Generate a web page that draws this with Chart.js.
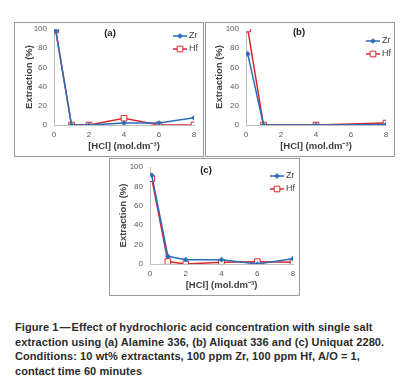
<!DOCTYPE html>
<html lang="en">
<head>
    <meta charset="UTF-8">
    <title>Figure 1</title>
    <script src="https://cdn.jsdelivr.net/npm/chart.js"></script>
    <style>
        body {
        margin: 0;
        background: #fff;
        font-family: "Liberation Sans", Arial, sans-serif;
        }
        .panel {
        position: absolute;
        border: 1px solid #9a9a9a;
        background: #fff;
        }
        .panel canvas {
        display: block;
        }
        #caption {
        position: absolute;
        left: 15px;
        top: 320px;
        font-size: 11px;
        font-weight: bold;
        line-height: 14.5px;
        color: #2b2b2b;
        white-space: nowrap;
        letter-spacing: 0.08px;
        }
    </style>
</head>
<body>
    <div class="panel" style="left:14px; top:22px; width:188px; height:133px;">
        <canvas id="chartA" width="188" height="133"></canvas>
    </div>
    <div class="panel" style="left:205px; top:22px; width:188px; height:133px;">
        <canvas id="chartB" width="188" height="133"></canvas>
    </div>
    <div class="panel" style="left:109px; top:158px; width:189px; height:136px;">
        <canvas id="chartC" width="189" height="136"></canvas>
    </div>

    <div id="caption">
        Figure 1&#8202;—&#8202;Effect of hydrochloric acid concentration with single salt<br>
        extraction using (a) Alamine 336, (b) Aliquat 336 and (c) Uniquat 2280.<br>
        Conditions: 10 wt% extractants, 100 ppm Zr, 100 ppm Hf, A/O = 1,<br>
        contact time 60 minutes
    </div>

    <script>
        // [HCl] concentrations (mol.dm-3) and extraction (%)
        const hclA = [0.1, 1, 2, 4, 6, 8];
        const zrA = [98, 0, 0, 2, 2, 7.5];
        const hfA = [99, 0, 0, 7, 0, 0];

        const hclB = [0.1, 1, 4, 8];
        const zrB = [74, 0, 0, 0.5];
        const hfB = [100, 0, 0, 2];

        const hclC = [0.1, 1, 2, 4, 6, 8];
        const zrC = [91.5, 8, 4.5, 4.5, 0, 5.5];
        const hfC = [88, 2.5, 0, 1.7, 2.4, 1.7];

        const xTicks = [0, 2, 4, 6, 8];
        const yTicks = [0, 20, 40, 60, 80, 100];
        const seriesNames = ['Zr', 'Hf'];

        const ZR_COLOR = '#2a6ebb';
        const HF_COLOR = '#d9262c';
        const TEXT = '#404040';

        // title "(a)" and the little legend, drawn inside the plot
        const panelDeco = {
        id: 'panelDeco',
        afterDraw(chart) {
            const o = chart.options.plugins.panelDeco;
            const ctx = chart.ctx;
            ctx.save();
            ctx.fillStyle = '#1a1a1a';
            ctx.font = 'bold 9.5px "Liberation Sans", Arial, sans-serif';
            ctx.textAlign = 'center';
            ctx.textBaseline = 'middle';
            ctx.fillText(o.label, o.labelX, o.labelY);

            chart.data.datasets.forEach((ds, i) => {
            const y = o.legY + i * 13;
            ctx.strokeStyle = ds.borderColor;
            ctx.lineWidth = 1.5;
            ctx.beginPath();
            ctx.moveTo(o.legX, y);
            ctx.lineTo(o.legX + 14, y);
            ctx.stroke();
            ctx.fillStyle = ds.pointBackgroundColor;
            ctx.strokeStyle = ds.pointBorderColor;
            ctx.lineWidth = ds.pointBorderWidth;
            Chart.helpers.drawPoint(ctx, {
                pointStyle: ds.pointStyle,
                radius: ds.pointRadius,
                borderWidth: ds.pointBorderWidth
            }, o.legX + 7, y);
            ctx.fillStyle = TEXT;
            ctx.font = '9px "Liberation Sans", Arial, sans-serif';
            ctx.textAlign = 'left';
            ctx.fillText(ds.label, o.legX + 16, y);
            });
            ctx.restore();
        }
        };

        function makeChart(id, xs, zr, hf, deco, area) {
        const toPts = (ys) => xs.map((x, i) => ({ x: x, y: ys[i] }));
        return new Chart(document.getElementById(id), {
            type: 'line',
            data: {
            datasets: [{
                label: seriesNames[0],
                data: toPts(zr),
                borderColor: ZR_COLOR,
                backgroundColor: ZR_COLOR,
                pointBackgroundColor: ZR_COLOR,
                pointBorderColor: ZR_COLOR,
                pointStyle: 'rectRot',
                pointRadius: 2.6,
                pointBorderWidth: 0.5,
                borderWidth: 1.5,
                tension: 0
            }, {
                label: seriesNames[1],
                data: toPts(hf),
                borderColor: HF_COLOR,
                backgroundColor: '#fff',
                pointBackgroundColor: '#fff',
                pointBorderColor: HF_COLOR,
                pointStyle: 'rect',
                pointRadius: 4,
                pointBorderWidth: 1,
                borderWidth: 1.5,
                tension: 0
            }]
            },
            options: {
            responsive: false,
            animation: false,
            layout: { padding: { top: area.top, right: area.right, left: 0, bottom: 0 } },
            plugins: {
                legend: { display: false },
                tooltip: { enabled: false },
                panelDeco: deco
            },
            scales: {
                x: {
                type: 'linear',
                min: 0,
                max: 8,
                afterBuildTicks: (s) => { s.ticks = xTicks.map(v => ({ value: v })); },
                afterFit: (s) => { s.height = area.xh; s.paddingLeft = 0; s.paddingRight = 0; },
                grid: { drawOnChartArea: false, drawTicks: false },
                border: { color: '#bfbfbf', width: 1 },
                ticks: { color: '#595959', font: { size: 8 }, padding: 5 },
                title: {
                    display: true,
                    text: '[HCl] (mol.dm⁻³)',
                    color: TEXT,
                    font: { size: 9.5, weight: 'bold' },
                    padding: { top: 0, bottom: area.xtb }
                }
                },
                y: {
                min: 0,
                max: 100,
                afterBuildTicks: (s) => { s.ticks = yTicks.map(v => ({ value: v })); },
                afterFit: (s) => { s.width = area.yw; s.paddingTop = 0; s.paddingBottom = 0; },
                grid: { drawOnChartArea: false, drawTicks: false },
                border: { color: '#bfbfbf', width: 1 },
                ticks: { color: '#595959', font: { size: 8 }, padding: 7 },
                title: {
                    display: true,
                    text: 'Extraction (%)',
                    color: TEXT,
                    font: { size: 9.5, weight: 'bold' },
                    padding: { top: area.ytp, bottom: 0 }
                }
                }
            }
            },
            plugins: [panelDeco]
        });
        }

        Chart.defaults.font.family = '"Liberation Sans", Arial, sans-serif';

        makeChart('chartA', hclA, zrA, hfA,
        { label: '(a)', labelX: 95, labelY: 10, legX: 158, legY: 13 },
        { top: 6, right: 9, yw: 39, xh: 31, ytp: 8.5, xtb: 3.5 });

        makeChart('chartB', hclB, zrB, hfB,
        { label: '(b)', labelX: 93, labelY: 9, legX: 160, legY: 18 },
        { top: 6, right: 8, yw: 40, xh: 31, ytp: 7.5, xtb: 3.5 });

        makeChart('chartC', hclC, zrC, hfC,
        { label: '(c)', labelX: 96, labelY: 11, legX: 160, legY: 17 },
        { top: 8, right: 6, yw: 40, xh: 31, ytp: 7.5, xtb: 3.5 });
    </script>
</body>
</html>
